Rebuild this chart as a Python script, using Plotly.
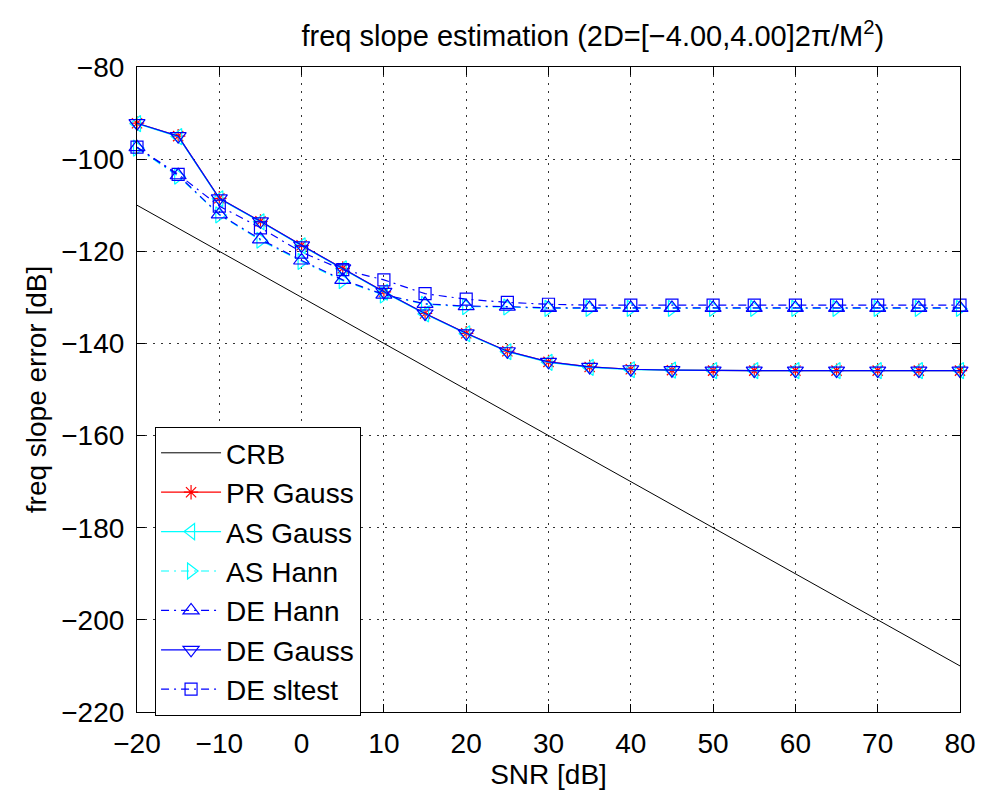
import plotly.graph_objects as go

snr = [-20, -15, -10, -5, 0, 5, 10, 15, 20, 25, 30, 35, 40, 45, 50, 55, 60, 65, 70, 75, 80]

crb_x = [-20, 80]
crb_y = [-110.0, -210.0]

pr_gauss = [-92.2, -95.0, -108.5, -113.5, -118.7, -123.7, -128.8, -133.5, -137.8, -141.7, -144.0,
            -145.1, -145.6, -145.8, -145.9, -145.9, -145.9, -145.9, -145.9, -145.9, -145.9]
as_gauss = [-92.3, -95.1, -108.6, -113.6, -118.8, -123.8, -128.9, -133.6, -137.9, -141.8, -144.1,
            -145.2, -145.7, -145.8, -145.9, -145.9, -145.9, -145.9, -145.9, -145.9, -145.9]
de_gauss = [-92.2, -95.0, -108.5, -113.5, -118.7, -123.7, -128.8, -133.5, -137.8, -141.7, -144.0,
            -145.1, -145.6, -145.8, -145.9, -145.9, -145.9, -145.9, -145.9, -145.9, -145.9]
as_hann = [-97.6, -103.7, -112.1, -117.6, -122.2, -126.4, -129.5, -131.5, -132.0, -132.1, -132.4,
           -132.4, -132.4, -132.4, -132.4, -132.4, -132.4, -132.4, -132.4, -132.4, -132.4]
de_hann = [-97.4, -103.5, -112.0, -117.4, -122.0, -126.2, -129.4, -131.4, -131.9, -132.0, -132.3,
           -132.3, -132.3, -132.3, -132.3, -132.3, -132.3, -132.3, -132.3, -132.3, -132.3]
de_sltest = [-97.4, -103.3, -110.2, -114.9, -120.2, -124.0, -126.2, -129.2, -130.4, -131.1, -131.5,
             -131.7, -131.7, -131.7, -131.7, -131.7, -131.7, -131.7, -131.7, -131.7, -131.7]

FONT = "Liberation Sans, Arial, Helvetica, sans-serif"
fig = go.Figure()

fig.add_trace(go.Scatter(x=crb_x, y=crb_y, mode="lines", name="CRB",
                         line=dict(color="black", width=1)))

def add(y, name, color, symbol, dash, size=12):
    fig.add_trace(go.Scatter(
        x=snr, y=y, name=name, mode="lines+markers", cliponaxis=False,
        line=dict(color=color, width=1.2, dash=dash),
        marker=dict(symbol=symbol, size=size, color=color, line=dict(color=color, width=1.2)),
    ))

add(pr_gauss, "PR Gauss", "red", "asterisk-open", "solid", 12)
add(as_gauss, "AS Gauss", "cyan", "triangle-left-open", "solid", 14)
add(as_hann, "AS Hann", "cyan", "triangle-right-open", "8px,5px,2px,5px", 14)
add(de_hann, "DE Hann", "blue", "triangle-up-open", "8px,5px,2px,5px", 14)
add(de_gauss, "DE Gauss", "blue", "triangle-down-open", "solid", 14)
add(de_sltest, "DE sltest", "blue", "square-open", "8px,5px,2px,5px", 12)

axis_common = dict(
    showline=True, linecolor="black", linewidth=1.2, mirror="ticks",
    ticks="inside", ticklen=8, tickwidth=1, tickcolor="black",
    showgrid=True, gridcolor="#333333", gridwidth=1, griddash="1.5px,6.5px",
    zeroline=False, tickfont=dict(family=FONT, size=28, color="black"),
)

fig.update_xaxes(range=[-20, 80], dtick=10, tick0=-20, ticklabelstandoff=6,
                 title=dict(text="SNR [dB]", font=dict(family=FONT, size=28, color="black"), standoff=2),
                 **axis_common)
fig.update_yaxes(range=[-220, -80], dtick=20, tick0=-220, ticklabelstandoff=6,
                 title=dict(text="freq slope error [dB]", font=dict(family=FONT, size=28, color="black"), standoff=6),
                 **axis_common)

fig.update_layout(
    width=988, height=792,
    margin=dict(l=137, r=21, t=67, b=77),
    paper_bgcolor="white", plot_bgcolor="white",
    title=dict(text="freq slope estimation (2D=[−4.00,4.00]2π/M<sup>2</sup>)",
               x=0.600, xanchor="center", y=0.955, yanchor="middle",
               font=dict(family=FONT, size=29, color="black")),
    legend=dict(x=0.0217, y=0.442, xanchor="left", yanchor="top",
                bgcolor="white", bordercolor="black", borderwidth=1.2,
                font=dict(family=FONT, size=28, color="black"),
                itemwidth=60, tracegroupgap=0),
    showlegend=True,
)

fig.write_html("out.html")
